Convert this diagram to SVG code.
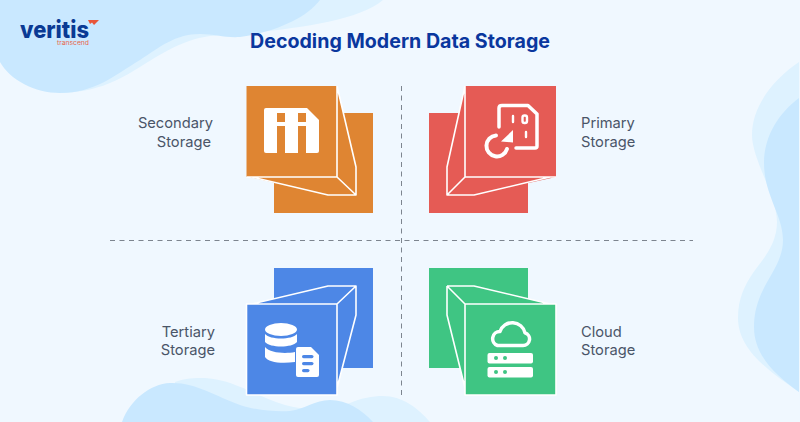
<svg xmlns="http://www.w3.org/2000/svg" width="800" height="422" viewBox="0 0 800 422">
<style>
text{font-family:Inter,"Liberation Sans",sans-serif}
.lbl{font-size:14.700px;fill:#4a5568;text-anchor:end}
.lbr{font-size:14.700px;fill:#4a5568}
.div{stroke:#7d858f;stroke-width:1;stroke-dasharray:5 4.500;fill:none}
.edge{fill:none;stroke:#fff;stroke-width:1.600;stroke-linejoin:round}
.ic{fill:#fff}
.ol{fill:none;stroke:#fff;stroke-linecap:round;stroke-linejoin:round}
</style>
<rect width="800" height="422" fill="#f0f8ff"/>
<path d="M60 93C95 92 115 82 135 70C155 58 180 40 210 36C225 35 235 34 250 33C300 28 360 20 383 0H0V62Z" fill="#def2ff"/>
<path d="M0 62C10 80 35 93 60 93C95 93 115 75 140 60C160 47 175 34 200 34C215 34 225 38 240 37C270 33 305 20 320 0H0Z" fill="#c9e8ff"/>
<path d="M799 62C775 78 752 105 752 135C752 160 777 195 777 222C777 245 762 260 753 273C745 285 738 298 738 318C738 350 770 372 799 392Z" fill="#def2ff"/>
<path d="M799 98C780 112 764 135 764 163C764 195 783 215 783 240C783 260 770 275 763 290C758 300 754 312 754 327C754 355 775 375 799 392Z" fill="#c9e8ff"/>
<path d="M175 382C185 378 195 378 205 378C235 380 255 396 285 405C310 412 335 408 350 403C362 398 372 396 383 396C402 396 418 408 430 422H175Z" fill="#def2ff"/>
<path d="M122 422C130 400 150 384 170 383C195 382 215 396 240 405C255 410 275 412 290 411C305 409 315 400 330 400C347 400 362 410 373 422Z" fill="#c9e8ff"/>
<g id="connectors">
<line class="div" x1="401.500" y1="86" x2="401.500" y2="397"/>
<line class="div" x1="110" y1="240.500" x2="693" y2="240.500"/>
</g>
<g id="logo">
<text x="20" y="38" font-size="24" font-weight="800" fill="#0a3a94" textLength="69" lengthAdjust="spacingAndGlyphs">veritis</text>
<text x="57" y="45" font-size="6.500" fill="#e8654a" textLength="32" lengthAdjust="spacingAndGlyphs">transcend</text>
<path d="M88 20H99L94 25L92 22.500L90 24Z" fill="#e8553a"/>
</g>
<text x="400" y="48" font-size="19.500" font-weight="700" fill="#0a379e" text-anchor="middle" textLength="300" lengthAdjust="spacingAndGlyphs">Decoding Modern Data Storage</text>
<g id="secondary">
<rect x="274" y="113" width="99" height="100" fill="#df8532"/>
<path d="M246.500 86H337V177L356 195H328L250 177H246.500Z" fill="#df8532"/>
<path d="M337 86L356 167V195L337 177Z" fill="#df8532"/>
<path class="edge" d="M337 86V177M337 86L356 167V195H328L252 177M337 177L356 195M246.500 177H337"/>
<path class="ic" d="M266 108H307L319 120V151Q319 153 317 153H266Q264 153 264 151V110Q264 108 266 108Z"/>
<g fill="#df8532">
<rect x="277" y="113" width="8" height="9"/><rect x="298" y="113" width="8" height="9"/>
<rect x="277" y="126" width="8" height="27.500"/><rect x="298" y="126" width="8" height="27.500"/>
</g>
<text class="lbl" x="213" y="128">Secondary</text>
<text class="lbl" x="211" y="147">Storage</text>
</g>
<g id="primary">
<rect x="429" y="113" width="99" height="100" fill="#e55b55"/>
<path d="M465 86H556V177L474 195H447V167Z" fill="#e55b55"/>
<path class="edge" d="M465 86V177M465 86L447 167V195H474L550 177M465 177L447 195M465 177H556"/>
<path class="ol" style="stroke-width:3.500" d="M499 127V108Q499 105.500 502 105.500H528L537 114V146Q537 148 535 148H516"/>
<path class="ol" style="stroke-width:2.400" d="M513 116V122M526 132V137"/>
<rect x="522.500" y="115.500" width="4.500" height="7.500" rx="2" fill="none" stroke="#fff" stroke-width="2.400"/>
<path class="ol" style="stroke-width:4" d="M496 135.500A10.500 10.500 0 1 0 507 149"/>
<path d="M501 141.500L513 130V142.500Z" fill="#fff"/>
<text class="lbr" x="581" y="128">Primary</text>
<text class="lbr" x="581" y="147">Storage</text>
</g>
<g id="tertiary">
<rect x="274" y="268" width="99" height="100" fill="#4d87e6"/>
<path d="M252 304L328 286H356V315L337 388V395H246.500V304Z" fill="#4d87e6"/>
<path class="edge" d="M252 304L328 286H356V315L337 388M337 304L356 286M246.500 304H337V395H246.500Z"/>
<g class="ic">
<ellipse cx="281" cy="329.500" rx="16" ry="6.500"/>
<path d="M265 334C270 340 292 340 297 334V342C292 348 270 348 265 342Z"/>
<path d="M265 347C270 353 285 354 295 352V362C280 364 268 362 265 357Z"/>
<path d="M298 347Q296 347 296 349V375Q296 377 298 377H317Q319 377 319 375V355L311 347Z"/>
</g>
<g fill="#4d87e6"><rect x="302" y="355" width="11.500" height="3.200" rx="1.600"/><rect x="302" y="362" width="11.500" height="3.200" rx="1.600"/><rect x="302" y="369" width="7.500" height="3.200" rx="1.600"/></g>
<text class="lbl" x="215" y="337">Tertiary</text>
<text class="lbl" x="215" y="355">Storage</text>
</g>
<g id="cloud">
<rect x="429" y="268" width="99" height="100" fill="#3fc583"/>
<path d="M447 286H474L550 304H556V395H465V388L447 315Z" fill="#3fc583"/>
<path class="edge" d="M447 286H474L550 304M447 286V315L465 388M447 286L465 304M465 304H556V395H465Z"/>
<path d="M497.500 345.500H523A6.500 6.500 0 0 0 525 332.800A13 13 0 0 0 500 331.500A7.200 7.200 0 0 0 497.500 345.500Z" fill="none" stroke="#fff" stroke-width="3.500" stroke-linejoin="round"/>
<rect x="487.500" y="353" width="45.500" height="10.500" rx="2" fill="#fff"/>
<rect x="487.500" y="367" width="45.500" height="10.500" rx="2" fill="#fff"/>
<g fill="#3fc583"><circle cx="496" cy="358" r="2"/><circle cx="505" cy="358" r="2"/><circle cx="496" cy="372" r="2"/><circle cx="505" cy="372" r="2"/></g>
<text class="lbr" x="581" y="337">Cloud</text>
<text class="lbr" x="581" y="355">Storage</text>
</g>
</svg>
